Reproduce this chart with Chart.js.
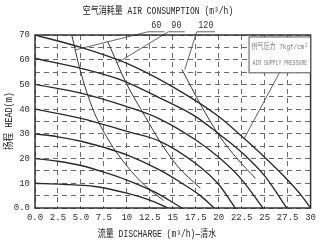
<!DOCTYPE html>
<html>
<head>
<meta charset="utf-8">
<script src="https://cdn.jsdelivr.net/npm/chart.js@4.4.1/dist/chart.umd.min.js"></script>
<style>
  html, body { margin: 0; padding: 0; background: #fff; }
</style>
</head>
<body>
<canvas id="pumpChart" width="320" height="246"></canvas>
<script>
// tick labels
const xTickLabels = ['0.0', '2.5', '5.0', '7.5', '10', '12.5', '15', '17.5', '20', '22.5', '25', '27.5', '30'];
const yTickLabels = ['0.0', '10', '20', '30', '40', '50', '60', '70'];

// head (m) vs discharge (m3/h), one curve per air supply pressure
const head10 = [[0, 10], [3, 9.6], [6.5, 8.7], [10, 6], [12.5, 3.2], [14.5, 0]];
const head20 = [[0, 20], [2.5, 18.9], [5, 17.2], [7.5, 14.5], [10, 11.3], [13, 6.5], [16, 0]];
const head30 = [[0, 30], [2.5, 28.8], [5, 27], [7.5, 24.5], [10, 21.5], [13.5, 15.5], [16, 10], [18, 5], [19.5, 0]];
const head40 = [[0, 40], [5, 36.3], [10, 31], [13.6, 27], [17.5, 18], [20, 9.5], [21.8, 0]];
const head50 = [[0, 50], [5, 46.5], [10, 41], [13.6, 36], [17.5, 27.5], [20, 20.5], [22.5, 11.5], [24.8, 0]];
const head60 = [[0, 60.5], [5, 56.5], [9.2, 52], [13.6, 44.5], [17.5, 37], [20, 30], [22.5, 22.5], [25, 13], [27.4, 0]];
const head70 = [[0, 70], [5, 65], [10, 58.5], [15, 49], [20, 37], [22.5, 29], [25, 20.5], [27.5, 11.3], [29, 5], [30, 0]];
const headCurves = [head10, head20, head30, head40, head50, head60, head70];

// air consumption curves (m3/h)
const air60 = [[4, 70], [4.9, 56], [6.3, 40], [8, 27.5], [10, 17], [12, 9], [14, 3]];
const air90 = [[7.9, 67.5], [10, 50], [12, 37], [13.5, 27.5], [15.5, 17], [18, 8]];
const air120 = [[16, 56], [18, 42], [20.1, 29], [22, 20], [24, 12]];
const airCurves = [air60, air90, air120];
const airLabels = ['60', '90', '120'];

// leader lines from the labels above the plot
const leader60 = [[14.1, 71.3], [12.3, 71.3], [4.4, 64]];
const leader90 = [[16.3, 71.3], [14.5, 71.3], [8.9, 58.6]];
const leader120 = [[19.6, 71.3], [17.6, 71.3], [16.3, 56]];
const leaderBox = [[26.6, 54.7], [22.8, 28.3]];
const leaders = [leader60, leader90, leader120, leaderBox];

const toXY = pts => pts.map(p => ({ x: p[0], y: p[1] }));

const datasets = [];
headCurves.forEach(c => datasets.push({
  data: toXY(c), borderColor: '#2a2a2a', borderWidth: 1.35,
  pointRadius: 0, cubicInterpolationMode: 'monotone'
}));
airCurves.forEach(c => datasets.push({
  data: toXY(c), borderColor: '#3a3a3a', borderWidth: 1,
  pointRadius: 0, cubicInterpolationMode: 'monotone'
}));
leaders.forEach(c => datasets.push({
  data: toXY(c), borderColor: '#555', borderWidth: 0.9,
  pointRadius: 0, tension: 0, clip: false
}));

const monoFont = "'Liberation Mono', 'DejaVu Sans Mono', monospace";
const mixedFont = "'Liberation Mono', 'Noto Sans CJK SC', monospace";

// narrow typewriter look of the original scan
function squeezedText(ctx, text, x, y, size, squeeze) {
  ctx.save();
  ctx.translate(x, y);
  ctx.scale(squeeze, 1);
  ctx.font = size + "px " + mixedFont;
  ctx.fillText(text, 0, 0);
  ctx.restore();
}

const decorations = {
  id: 'decorations',
  afterDatasetsDraw(chart) {
    const ctx = chart.ctx;
    const area = chart.chartArea;
    const xs = chart.scales.x, ys = chart.scales.y;
    ctx.save();

    // plot frame
    ctx.strokeStyle = '#333';
    ctx.lineWidth = 1.5;
    ctx.strokeRect(area.left, area.top, area.right - area.left, area.bottom - area.top);

    // air supply pressure box
    const bx = xs.getPixelForValue(23.3), by = ys.getPixelForValue(69.2);
    const bw = area.right - bx, bh = ys.getPixelForValue(54.7) - by;
    ctx.fillStyle = '#fff';
    ctx.fillRect(bx, by, bw, bh);
    ctx.lineWidth = 1;
    ctx.strokeStyle = '#555';
    ctx.strokeRect(bx, by, bw, bh);
    ctx.fillStyle = '#777';
    ctx.textAlign = 'center';
    ctx.textBaseline = 'middle';
    squeezedText(ctx, '供气压力 7kgf/cm²', bx + bw / 2, by + 10, 8, 0.75);
    squeezedText(ctx, 'AIR SUPPLY PRESSURE', bx + bw / 2, by + 26, 8, 0.6);

    // consumption labels
    ctx.fillStyle = '#333';
    const labelX = [13.2, 15.4, 18.6];
    airLabels.forEach((t, i) => {
      squeezedText(ctx, t, xs.getPixelForValue(labelX[i]), ys.getPixelForValue(73.8), 10, 0.85);
    });

    // titles
    ctx.fillStyle = '#222';
    squeezedText(ctx, '空气消耗量 AIR CONSUMPTION (m³/h)', 158, 11, 10, 0.8);
    squeezedText(ctx, '流量 DISCHARGE (m³/h)—清水', 157, 234, 10, 0.8);
    ctx.translate(9, 121);
    ctx.rotate(-Math.PI / 2);
    squeezedText(ctx, '扬程 HEAD(m)', 0, 0, 10, 0.85);
    ctx.restore();
  }
};

new Chart(document.getElementById('pumpChart'), {
  type: 'line',
  data: { datasets },
  options: {
    responsive: false,
    animation: false,
    devicePixelRatio: 1,
    layout: { padding: { left: 0, right: 9, top: 35, bottom: 0 } },
    plugins: { legend: { display: false }, tooltip: { enabled: false } },
    scales: {
      x: {
        type: 'linear', min: 0, max: 30,
        afterFit: s => { s.height = 38; },
        grid: { color: '#6a6a6a', lineWidth: 1, drawTicks: false },
        border: { display: false, dash: [5, 4] },
        ticks: {
          stepSize: 2.5, autoSkip: false, maxRotation: 0, padding: 4,
          color: '#333', font: { family: monoFont, size: 9 },
          callback: (v, i) => xTickLabels[i]
        }
      },
      y: {
        type: 'linear', min: 0, max: 70,
        afterFit: s => { s.width = 35; },
        grid: { color: '#6a6a6a', lineWidth: 1, drawTicks: false },
        border: { display: false, dash: [5, 4] },
        ticks: {
          stepSize: 5, autoSkip: false, padding: 5,
          color: '#333', font: { family: monoFont, size: 9 },
          callback: v => (v % 10 === 0 ? yTickLabels[v / 10] : '')
        }
      }
    }
  },
  plugins: [decorations]
});
</script>
</body>
</html>
